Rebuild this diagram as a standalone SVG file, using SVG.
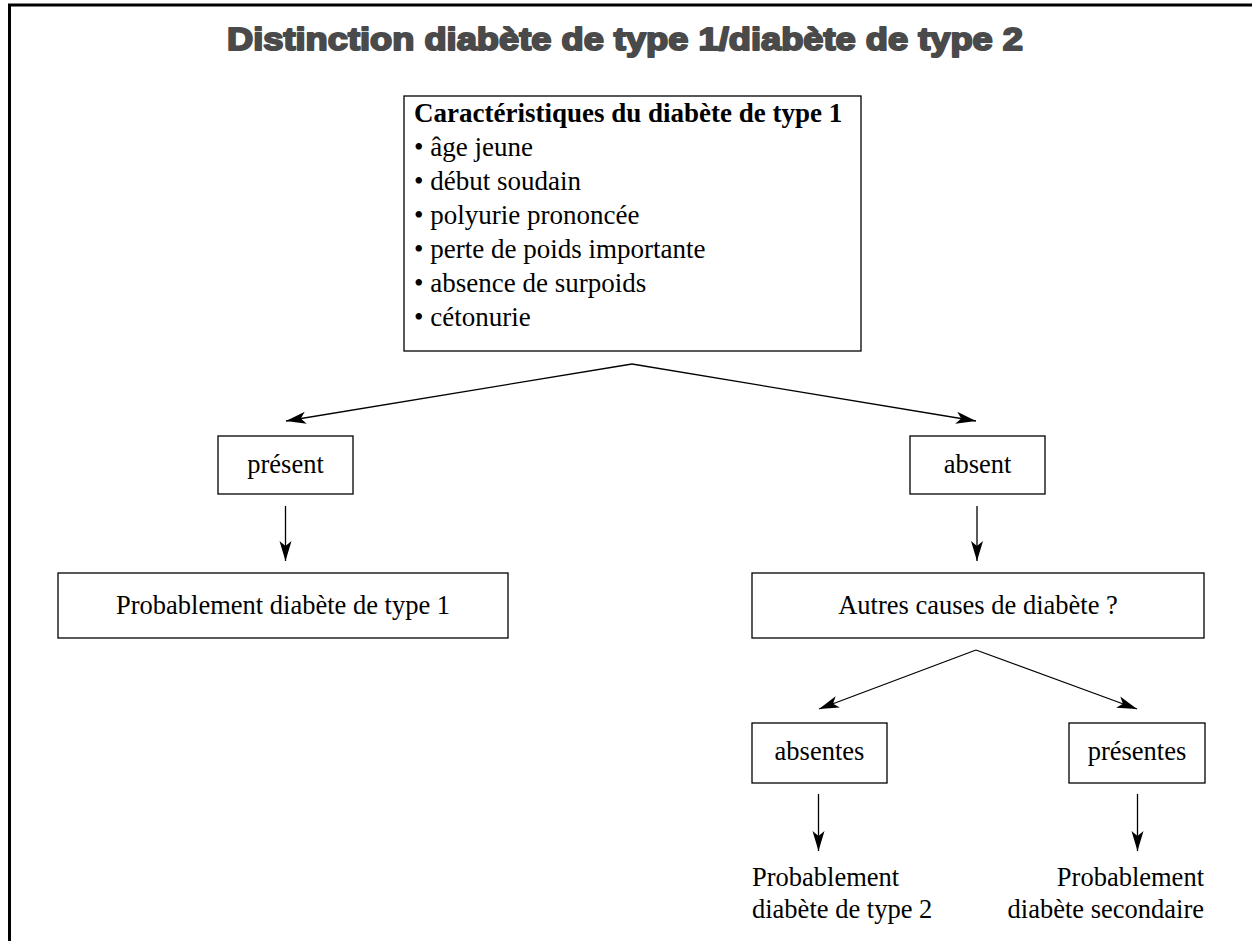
<svg xmlns="http://www.w3.org/2000/svg" width="1252" height="941" viewBox="0 0 1252 941">
<style>
.box{fill:#fff;stroke:#000;stroke-width:1.3}
.t{font-family:"Liberation Serif","Times New Roman",serif;font-size:26.5px;fill:#000}
.tl{font-size:27px}
.c{text-anchor:middle}
.b{font-weight:bold}
.title{font-family:"Liberation Sans",Arial,sans-serif;font-weight:900;font-size:32px;fill:#4a4a4a;stroke:#4a4a4a;stroke-width:2;stroke-linejoin:round;text-anchor:middle}
.con{stroke:#000;stroke-width:1.3;fill:none}
</style>
<defs>
<marker id="ah" markerUnits="userSpaceOnUse" markerWidth="22" markerHeight="14" refX="20" refY="6.5" orient="auto">
<path d="M0,0.5 L20,6.5 L0,12.5 L5,6.5 z" fill="#000"/>
</marker>
</defs>
<rect width="1252" height="941" fill="#fff"/>
<g id="frame">
<line x1="8" y1="5" x2="1252" y2="5" stroke="#000" stroke-width="3"/>
<line x1="9.5" y1="4" x2="9.5" y2="941" stroke="#000" stroke-width="3"/>
</g>
<g id="title">
<text class="title" x="625" y="50" textLength="796" lengthAdjust="spacingAndGlyphs">Distinction diabète de type 1/diabète de type 2</text>
</g>
<g id="connectors">
<line class="con" x1="632" y1="364" x2="286" y2="421" marker-end="url(#ah)"/>
<line class="con" x1="632" y1="364" x2="976" y2="421" marker-end="url(#ah)"/>
<line class="con" x1="285.5" y1="506" x2="285.5" y2="561" marker-end="url(#ah)"/>
<line class="con" x1="977" y1="506" x2="977" y2="561" marker-end="url(#ah)"/>
<line class="con" x1="976" y1="650" x2="819" y2="709" marker-end="url(#ah)"/>
<line class="con" x1="976" y1="650" x2="1137" y2="709" marker-end="url(#ah)"/>
<line class="con" x1="818.5" y1="794" x2="818.5" y2="851" marker-end="url(#ah)"/>
<line class="con" x1="1137.5" y1="794" x2="1137.5" y2="851" marker-end="url(#ah)"/>
</g>
<g id="n-criteria">
<rect class="box" x="404" y="96" width="457" height="255"/>
<text class="t tl b" x="414" y="122">Caractéristiques du diabète de type 1</text>
<text class="t tl" x="414" y="156">• âge jeune</text>
<text class="t tl" x="414" y="190">• début soudain</text>
<text class="t tl" x="414" y="224">• polyurie prononcée</text>
<text class="t tl" x="414" y="258">• perte de poids importante</text>
<text class="t tl" x="414" y="292">• absence de surpoids</text>
<text class="t tl" x="414" y="326">• cétonurie</text>
</g>
<g id="n-present">
<rect class="box" x="218" y="436" width="135" height="58"/>
<text class="t c" x="285.5" y="473">présent</text>
</g>
<g id="n-absent">
<rect class="box" x="910" y="436" width="135" height="58"/>
<text class="t c" x="977.5" y="473">absent</text>
</g>
<g id="n-type1">
<rect class="box" x="58" y="573" width="450" height="65"/>
<text class="t c" x="283" y="614">Probablement diabète de type 1</text>
</g>
<g id="n-autres">
<rect class="box" x="752" y="573" width="452" height="65"/>
<text class="t c" x="978" y="614">Autres causes de diabète ?</text>
</g>
<g id="n-absentes">
<rect class="box" x="752" y="723" width="135" height="60"/>
<text class="t c" x="819.5" y="760">absentes</text>
</g>
<g id="n-presentes">
<rect class="box" x="1069" y="723" width="136" height="60"/>
<text class="t c" x="1137" y="760">présentes</text>
</g>
<g id="n-type2">
<text class="t" x="752" y="886">Probablement</text>
<text class="t" x="752" y="918">diabète de type 2</text>
</g>
<g id="n-secondaire">
<text class="t" x="1204" y="886" text-anchor="end">Probablement</text>
<text class="t" x="1204" y="918" text-anchor="end">diabète secondaire</text>
</g>
</svg>
